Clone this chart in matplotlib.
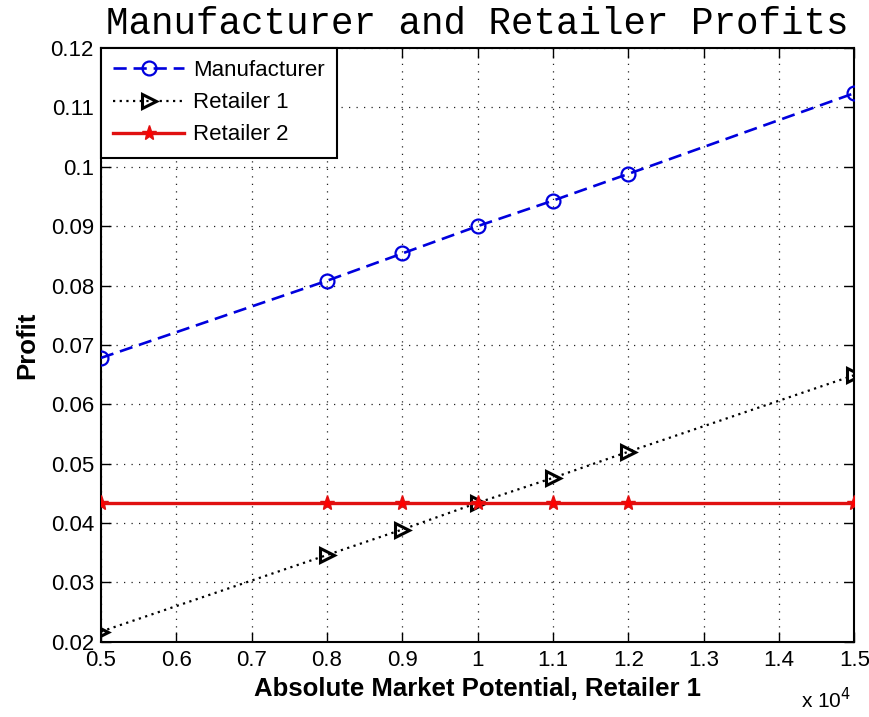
import matplotlib
matplotlib.use("Agg")
import matplotlib.pyplot as plt
from matplotlib.ticker import FuncFormatter, MultipleLocator

# Absolute market potential of retailer 1 and the resulting profits
market_potential = [5000, 8000, 9000, 10000, 11000, 12000, 15000]
manufacturer = [0.0678, 0.0808, 0.0854, 0.0900, 0.0943, 0.0988, 0.1124]
retailer1 = [0.0217, 0.0346, 0.0389, 0.0434, 0.0476, 0.0520, 0.0649]
retailer2 = [0.0434, 0.0434, 0.0434, 0.0434, 0.0434, 0.0434, 0.0434]

SCALE = 1e4
x = [v / SCALE for v in market_potential]

plt.rcParams["font.family"] = ["Liberation Sans", "DejaVu Sans"]

fig = plt.figure(figsize=(8.7, 7.17), dpi=100)
ax = fig.add_axes([0.116, 0.105, 0.866, 0.828])

ax.plot(x, manufacturer, color="#0000dd", lw=1.9, dashes=(5, 2.6),
        marker="o", ms=10, mfc="none", mec="#0000dd", mew=1.6,
        label="Manufacturer", zorder=3)
ax.plot(x, retailer1, color="black", lw=1.6, dashes=(1, 2),
        marker=">", ms=10, mfc="none", mec="black", mew=2.2,
        label="Retailer 1", zorder=3)
ax.plot(x, retailer2, color="#e01010", lw=2.4, ls="-",
        marker="*", ms=11, mfc="#ff0000", mec="#e01010", mew=1,
        label="Retailer 2", zorder=3)

ax.set_xlim(0.5, 1.5)
ax.set_ylim(0.02, 0.12)
ax.xaxis.set_major_locator(MultipleLocator(0.1))
ax.yaxis.set_major_locator(MultipleLocator(0.01))
fmt = FuncFormatter(lambda v, p: "%g" % round(v, 4))
ax.xaxis.set_major_formatter(fmt)
ax.yaxis.set_major_formatter(fmt)

ax.grid(True, color="#222222", lw=0.9, ls=(0, (1, 5)))
ax.tick_params(direction="in", length=7, width=1, top=True, right=True,
               labelsize=16, colors="black", pad=6)
ax.tick_params(axis="y", pad=5)
for s in ax.spines.values():
    s.set_linewidth(1.5)
    s.set_color("black")

ax.set_xlabel("Absolute Market Potential, Retailer 1", fontsize=18.5,
              fontweight="bold", labelpad=4)
ax.set_ylabel("Profit", fontsize=18.5, fontweight="bold", labelpad=8)
ax.set_title("Manufacturer and Retailer Profits", fontsize=27,
             family="Liberation Mono", pad=10)

fig.text(0.921, 0.006, r"x 10$^{4}$", fontsize=15, ha="left", va="bottom")

leg = ax.legend(loc="upper left", fontsize=16, numpoints=1, handlelength=3.2,
                handletextpad=0.4, borderaxespad=0, borderpad=0.55,
                labelspacing=0.5, fancybox=False, framealpha=1,
                edgecolor="black")
leg.get_frame().set_linewidth(1.5)

fig.savefig("out.png", dpi=100, facecolor="white")
